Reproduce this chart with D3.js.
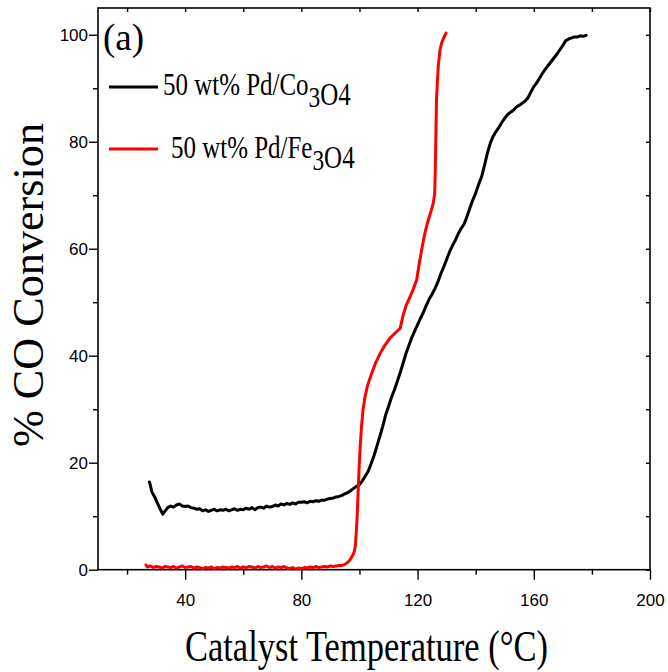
<!DOCTYPE html>
<html lang="en">
<head>
<meta charset="UTF-8">
<title>CO Conversion</title>
<script src="https://d3js.org/d3.v7.min.js"></script>
<style>
    body { margin: 0; background: #fff; }
    .tick text { font-family: "Liberation Sans Narrow", "Arial Narrow", "Liberation Sans", Arial, sans-serif; font-size: 17px; fill: #000; }
</style>
</head>
<body>
<div id="chart"></div>
<script>
    const width = 668, height = 672;
    const margin = { top: 8, right: 18, bottom: 102.3, left: 98 };
    const serifFont = "'Liberation Serif', 'Times New Roman', Tinos, 'DejaVu Serif', serif";

    const xMajor = [40, 80, 120, 160, 200];
    const xMinor = [20, 60, 100, 140, 180];
    const yMajor = [0, 20, 40, 60, 80, 100];
    const yMinor = [10, 30, 50, 70, 90];

    // 50 wt% Pd/Co3O4 (black)
    const coTemp = [27.7, 28, 28.5, 29.5, 30.5, 31.5, 32.3, 33, 34, 35, 36, 37, 38, 39, 40,
        41, 42, 43, 44, 45, 46, 47, 48, 49, 50, 51, 52, 53, 54, 55, 56, 57, 58, 59, 60,
        61, 62, 63, 64, 65, 66, 67, 68, 69, 70, 71, 72, 73, 74, 75, 76, 77, 78, 79, 80,
        81, 82, 83, 84, 85, 86, 87, 88, 89, 90, 91, 92, 93, 94, 95, 96, 97, 98, 99, 100,
        101, 102, 103, 104, 105, 106, 107, 108, 109, 110, 111, 112, 113, 114, 115, 116, 117, 118, 119, 120,
        121, 122, 123, 124, 125, 126, 127, 128, 129, 130, 131, 132, 133, 134, 135, 136, 137, 138, 139, 140,
        141, 142, 143, 144, 145, 146, 147, 148, 149, 150, 151, 152, 153, 154, 155, 156, 157, 158, 159, 160,
        161, 162, 163, 164, 165, 166, 167, 168, 169, 170, 171, 172, 173, 174, 175, 176, 177, 178];
    const coConv = [16.4, 15.8, 14.6, 13.6, 12.4, 11.2, 10.4, 10.9, 11.6, 11.9, 11.7, 12.1, 12.3, 11.9, 11.8,
        11.9, 11.6, 11.5, 11.3, 11.4, 11.0, 11.2, 10.9, 11.1, 11.3, 11.0, 11.2, 11.1, 11.3, 11.0, 11.2, 11.4, 11.1, 11.3, 11.2,
        11.5, 11.3, 11.6, 11.2, 11.6, 11.7, 11.5, 11.9, 11.7, 11.8, 12.1, 11.9, 12.3, 12.1, 12.4, 12.2, 12.5, 12.3, 12.6, 12.6,
        12.7, 12.5, 12.8, 12.7, 12.9, 12.8, 13.0, 13.0, 13.2, 13.3, 13.4, 13.6, 13.7, 13.9, 14.2, 14.4, 14.8, 15.2, 15.6, 15.9,
        16.6, 17.5, 18.4, 19.8, 21.3, 23.1, 24.9, 26.8, 28.9, 30.5, 32.2, 33.6, 35.2, 36.8, 38.6, 40.4, 41.9, 43.4, 44.6, 45.8,
        47.0, 48.1, 49.4, 50.6, 51.5, 52.6, 53.8, 55.3, 56.6, 58.0, 59.4, 60.6, 61.6, 62.8, 63.8, 64.6, 66.0, 67.6, 69.1, 70.4,
        72.0, 73.4, 75.5, 77.8, 79.7, 81.0, 81.9, 82.7, 83.6, 84.4, 85.1, 85.5, 85.9, 86.5, 86.8, 87.2, 87.6, 88.2, 89.3, 90.3,
        91.0, 91.9, 92.8, 93.6, 94.3, 95.0, 95.7, 96.4, 97.2, 98.0, 98.9, 99.2, 99.4, 99.6, 99.6, 99.8, 99.7, 99.9];

    // 50 wt% Pd/Fe3O4 (red)
    const feTemp = [26.5, 27, 28, 29, 30, 31, 32, 33, 34, 35, 36, 37, 38, 39, 40,
        41, 42, 43, 44, 45, 46, 47, 48, 49, 50, 51, 52, 53, 54, 55, 56, 57, 58, 59, 60,
        61, 62, 63, 64, 65, 66, 67, 68, 69, 70, 71, 72, 73, 74, 75, 76, 77, 78, 79, 80,
        81, 82, 83, 84, 85, 86, 87, 88, 89, 90, 91, 92, 93, 94, 95, 96, 96.7, 97.5, 98.2, 98.6,
        98.9, 99.2, 99.5, 99.9, 100.3, 100.7, 101.2, 101.9, 102.8, 104.2, 105.5, 107.1, 108.8, 110.5, 112.2, 114,
        115, 116, 117.4, 118.5, 119.7, 120.5, 121.4, 122.5, 123.5, 124.5, 125.4, 125.9, 126.1, 126.3, 126.5, 126.8,
        127.1, 127.7, 128.3, 128.9, 129.8];
    const feConv = [0.9, 0.5, 0.7, 0.4, 0.6, 0.5, 0.3, 0.6, 0.5, 0.4, 0.6, 0.3, 0.5, 0.7, 0.4,
        0.5, 0.6, 0.3, 0.5, 0.4, 0.2, 0.4, 0.3, 0.5, 0.2, 0.4, 0.3, 0.5, 0.4, 0.3, 0.5, 0.4, 0.6, 0.3, 0.5,
        0.4, 0.6, 0.5, 0.3, 0.6, 0.4, 0.5, 0.7, 0.4, 0.6, 0.3, 0.5, 0.4, 0.6, 0.3, 0.2, 0.4, 0.1, 0.3, 0.2,
        0.4, 0.3, 0.5, 0.4, 0.6, 0.4, 0.5, 0.6, 0.5, 0.7, 0.6, 0.7, 0.8, 0.8, 1.0, 1.4, 1.8, 2.5, 3.4, 4.5,
        7.0, 9.9, 14.0, 19.3, 23.5, 26.7, 29.8, 32.3, 34.5, 36.7, 38.6, 40.4, 42.0, 43.3, 44.2, 45.1,
        47.5, 49.3, 51.0, 52.4, 54.2, 57.0, 59.8, 62.9, 65.0, 66.8, 68.5, 70.4, 75.0, 81.0, 87.8, 91.0,
        94.0, 97.1, 98.5, 99.3, 100.3];

    const series = [
        { label: "Co", temp: coTemp, conv: coConv, color: "#000000" },
        { label: "Fe", temp: feTemp, conv: feConv, color: "#ff0000" }
    ];

    const svg = d3.select("#chart").append("svg")
        .attr("width", width)
        .attr("height", height);

    const x = d3.scaleLinear().domain([10, 200]).range([margin.left, width - margin.right]);
    const y = d3.scaleLinear().domain([0, 105]).range([height - margin.bottom, margin.top]);

    // frame
    svg.append("rect")
        .attr("x", x(10)).attr("y", y(105))
        .attr("width", x(200) - x(10)).attr("height", y(0) - y(105))
        .attr("fill", "none").attr("stroke", "#000").attr("stroke-width", 1.6);

    function styleAxis(g) {
        g.select(".domain").remove();
        g.selectAll(".tick line").attr("stroke", "#000").attr("stroke-width", 1.4);
    }

    // bottom
    svg.append("g").attr("transform", `translate(0,${y(0)})`)
        .call(d3.axisBottom(x).tickValues(xMinor).tickSize(5).tickFormat(""))
        .call(styleAxis);
    svg.append("g").attr("transform", `translate(0,${y(0)})`)
        .call(d3.axisBottom(x).tickValues(xMajor).tickSize(10).tickPadding(14).tickFormat(d3.format("d")))
        .call(styleAxis);
    // left
    svg.append("g").attr("transform", `translate(${x(10)},0)`)
        .call(d3.axisLeft(y).tickValues(yMinor).tickSize(5).tickFormat(""))
        .call(styleAxis);
    svg.append("g").attr("transform", `translate(${x(10)},0)`)
        .call(d3.axisLeft(y).tickValues(yMajor).tickSize(9).tickPadding(1).tickFormat(d3.format("d")))
        .call(styleAxis);
    // top and right, inward small ticks
    svg.append("g").attr("transform", `translate(0,${y(105)})`)
        .call(d3.axisTop(x).tickValues(xMajor.concat(xMinor)).tickSize(-4).tickFormat(""))
        .call(styleAxis);
    svg.append("g").attr("transform", `translate(${x(200)},0)`)
        .call(d3.axisRight(y).tickValues(yMajor.concat(yMinor)).tickSize(-4).tickFormat(""))
        .call(styleAxis);

    const line = d3.line()
        .x(d => x(d[0]))
        .y(d => y(d[1]));

    series.forEach(s => {
        const pts = s.temp.map((t, i) => [t, s.conv[i]]);
        svg.append("path")
            .datum(pts)
            .attr("fill", "none")
            .attr("stroke", s.color)
            .attr("stroke-width", 3)
            .attr("stroke-linejoin", "round")
            .attr("stroke-linecap", "round")
            .attr("d", line);
    });

    // axis titles
    svg.append("text")
        .attr("font-family", serifFont)
        .attr("x", 185).attr("y", 661)
        .attr("font-size", 44)
        .attr("textLength", 363).attr("lengthAdjust", "spacingAndGlyphs")
        .text("Catalyst Temperature (\u00B0C)");

    svg.append("text")
        .attr("font-family", serifFont)
        .attr("transform", "translate(43,447) rotate(-90)")
        .attr("font-size", 45)
        .attr("textLength", 324).attr("lengthAdjust", "spacingAndGlyphs")
        .text("% CO Conversion");

    // panel label
    svg.append("text")
        .attr("font-family", serifFont)
        .attr("x", 103).attr("y", 50)
        .attr("font-size", 37)
        .text("(a)");

    // legend
    const legend = [
        { color: "#000000", y: 87, tx: 163, base: 95, parts: ["50 wt% Pd/Co", "3", "O4"] },
        { color: "#ff0000", y: 149, tx: 171, base: 158, parts: ["50 wt% Pd/Fe", "3", "O4"] }
    ];
    legend.forEach(l => {
        svg.append("line")
            .attr("x1", 109).attr("x2", 158)
            .attr("y1", l.y).attr("y2", l.y)
            .attr("stroke", l.color).attr("stroke-width", 3.2);
        const t = svg.append("text")
            .attr("font-family", serifFont)
            .attr("transform", `translate(${l.tx},${l.base}) scale(0.78,1)`)
            .attr("font-size", 32);
        t.append("tspan").text(l.parts[0]);
        t.append("tspan").attr("dy", 12).attr("font-size", 30).text(l.parts[1]);
        t.append("tspan").attr("dy", -2).attr("font-size", 32).text(l.parts[2]);
    });
</script>
</body>
</html>
